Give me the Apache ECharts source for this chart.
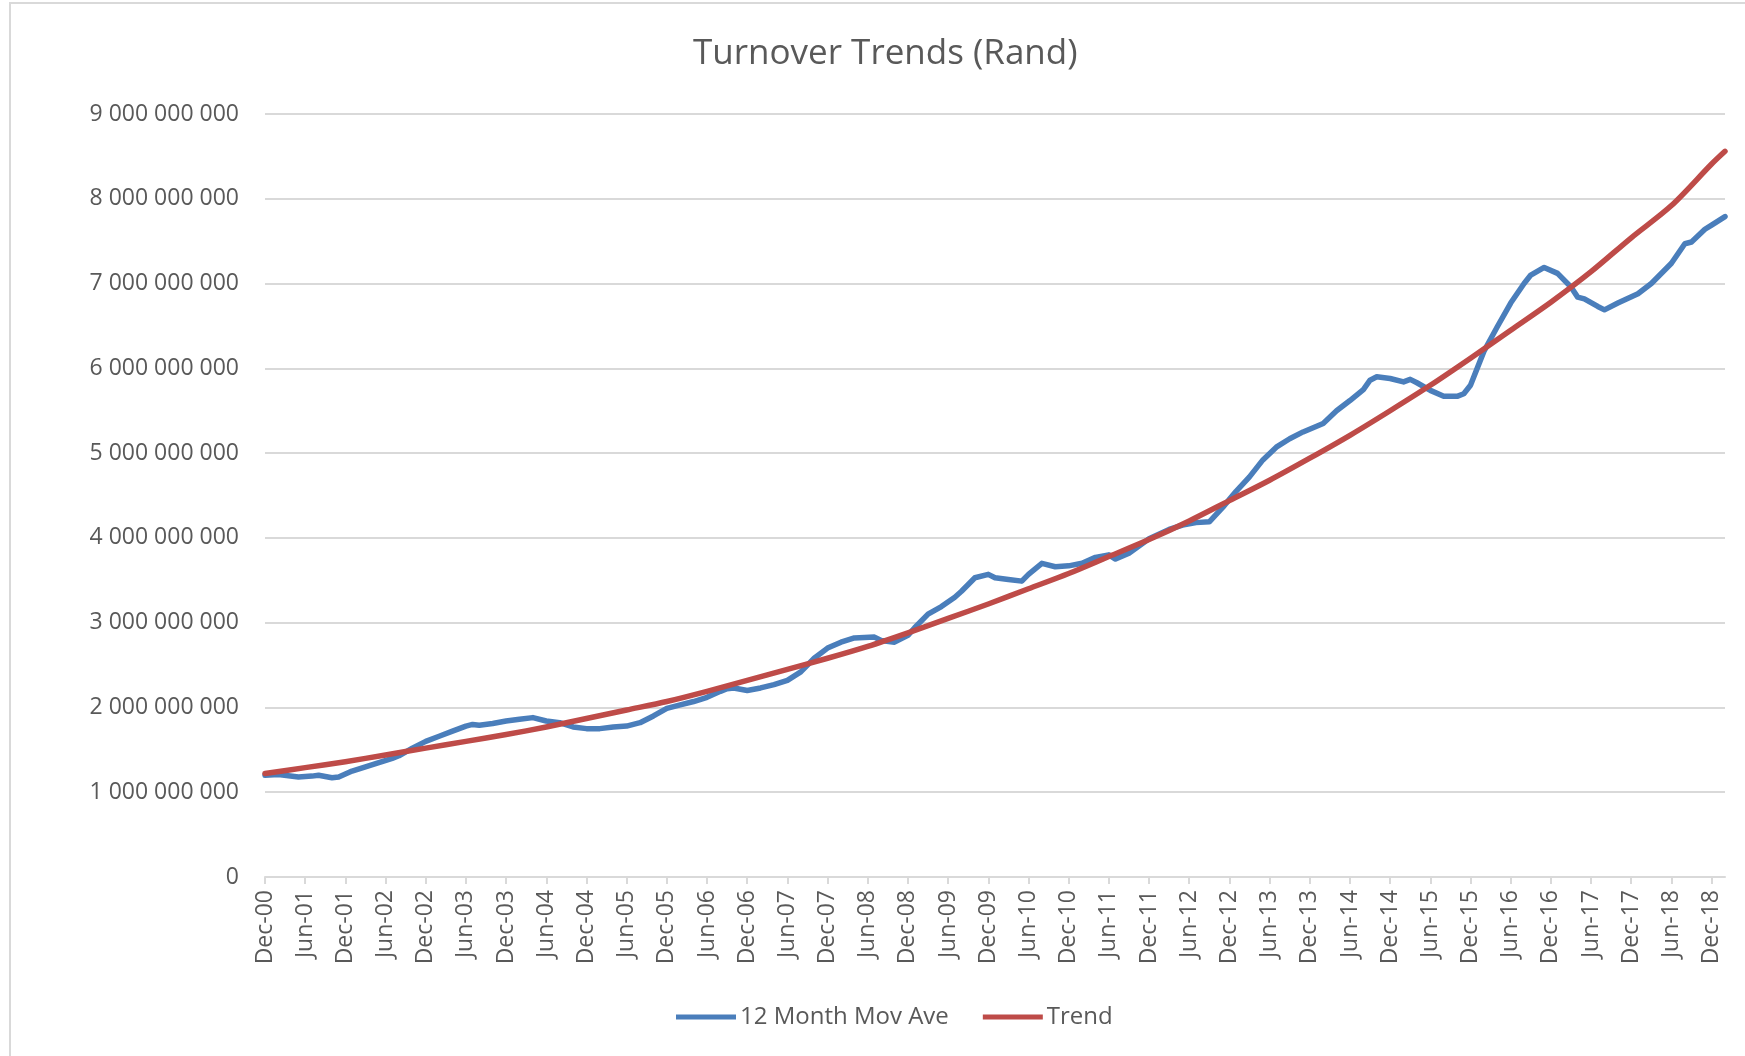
<!DOCTYPE html>
<html>
<head>
<meta charset="utf-8">
<script src="https://cdn.jsdelivr.net/npm/echarts@6/dist/echarts.min.js"></script>
<style>
  html, body { margin: 0; padding: 0; background: #fff; }
  #chart { width: 1745px; height: 1056px; }
</style>
</head>
<body>
<div id="chart"></div>
<script>
// monthly categories, Dec-00 .. Feb-19
const monthNames = ['Jan', 'Feb', 'Mar', 'Apr', 'May', 'Jun', 'Jul', 'Aug', 'Sep', 'Oct', 'Nov', 'Dec'];
const firstYear = 2000, firstMonth = 11, monthCount = 219;

// 12 month moving average (month index from Dec-00, value in millions of Rand)
const movAveMonth = [0, 2, 5, 7, 8, 10, 11, 13, 15, 17, 19, 20, 22, 24, 26, 28, 30, 31, 32, 34, 36, 38, 40, 42, 44, 46, 48, 50, 52, 54, 56, 58, 60, 62, 64, 66, 68, 69, 70, 72, 74, 76, 78, 80, 82, 84, 86, 88, 91, 92, 94, 96, 97, 99, 101, 103, 104, 106, 108, 109, 111, 113, 114, 116, 118, 120, 122, 124, 126, 127, 129, 132, 135, 137, 139, 141, 143, 145, 147, 149, 151, 153, 155, 158, 160, 162, 164, 165, 166, 168, 170, 171, 172, 174, 176, 178, 179, 180, 182, 184, 186, 188, 189, 191, 193, 195, 196, 197, 199, 200, 202, 205, 207, 210, 212, 213, 215, 216, 218];
const movAveMillions = [1200, 1210, 1180, 1190, 1200, 1170, 1180, 1250, 1300, 1350, 1400, 1430, 1520, 1600, 1660, 1720, 1780, 1800, 1790, 1810, 1840, 1860, 1880, 1840, 1820, 1770, 1750, 1750, 1770, 1780, 1820, 1900, 1990, 2030, 2070, 2120, 2190, 2220, 2230, 2200, 2230, 2270, 2320, 2420, 2580, 2700, 2770, 2820, 2830, 2790, 2770, 2850, 2940, 3100, 3190, 3300, 3370, 3530, 3570, 3530, 3510, 3490, 3570, 3700, 3660, 3670, 3700, 3770, 3800, 3750, 3820, 3990, 4100, 4150, 4180, 4190, 4360, 4550, 4720, 4920, 5070, 5170, 5250, 5350, 5500, 5620, 5750, 5860, 5900, 5880, 5840, 5870, 5830, 5740, 5670, 5670, 5700, 5800, 6200, 6490, 6770, 7000, 7100, 7190, 7120, 6960, 6840, 6820, 6730, 6690, 6770, 6880, 7000, 7240, 7470, 7490, 7640, 7690, 7790];

// trend series
const trendMonth = [0, 6, 12, 18, 24, 30, 36, 42, 48, 54, 60, 66, 72, 78, 84, 90, 96, 102, 108, 114, 120, 126, 132, 138, 144, 150, 156, 162, 168, 174, 180, 186, 192, 198, 204, 210, 216, 218];
const trendMillions = [1220, 1290, 1360, 1440, 1520, 1600, 1680, 1770, 1870, 1970, 2070, 2190, 2320, 2450, 2580, 2720, 2880, 3050, 3220, 3400, 3580, 3780, 3980, 4200, 4440, 4680, 4940, 5210, 5500, 5800, 6120, 6450, 6780, 7140, 7540, 7920, 8410, 8560];

const months = [];
for (let i = 0; i < monthCount; i++) {
  const m = (firstMonth + i) % 12;
  const y = firstYear + Math.floor((firstMonth + i) / 12);
  months.push(monthNames[m] + '-' + String(y % 100).padStart(2, '0'));
}

const toPairs = (idx, vals) => idx.map((m, i) => [m, vals[i] * 1e6]);

const fmtSpace = v => String(v).replace(/\B(?=(\d{3})+(?!\d))/g, ' ');

const labelFont = '"Open Sans", "Noto Sans", sans-serif';

const chart = echarts.init(document.getElementById('chart'));
chart.setOption({
  animation: false,
  backgroundColor: '#fff',
  textStyle: { fontFamily: labelFont },
  title: {
    text: 'Turnover Trends (Rand)',
    left: 688,
    top: 32,
    textStyle: { fontSize: 35, fontWeight: 'normal', color: '#595959', fontFamily: labelFont }
  },
  graphic: [{
    type: 'rect',
    shape: { x: 10, y: 3, width: 1800, height: 1100 },
    style: { fill: 'none', stroke: '#d9d9d9', lineWidth: 2 },
    silent: true
  }],
  legend: {
    bottom: 22,
    left: 671,
    icon: 'rect',
    itemWidth: 60,
    itemHeight: 5,
    itemGap: 34,
    textStyle: { fontSize: 24, color: '#595959', fontFamily: labelFont, padding: [0, 0, 0, -1] },
    data: ['12 Month Mov Ave', 'Trend']
  },
  grid: { left: 265, right: 20, top: 114, bottom: 179 },
  xAxis: {
    type: 'category',
    data: months,
    boundaryGap: false,
    axisLine: { lineStyle: { color: '#d9d9d9', width: 2 } },
    axisTick: { interval: 5, length: 7, lineStyle: { color: '#d9d9d9', width: 2 } },
    axisLabel: { interval: 5, rotate: 90, margin: 13, fontSize: 23, color: '#595959', fontFamily: labelFont },
    splitLine: { show: false }
  },
  yAxis: {
    type: 'value',
    min: 0,
    max: 9e9,
    interval: 1e9,
    axisLine: { show: false },
    axisTick: { show: false },
    axisLabel: { margin: 26, fontSize: 23, color: '#595959', fontFamily: labelFont, formatter: fmtSpace },
    splitLine: { lineStyle: { color: '#d9d9d9', width: 2 } }
  },
  series: [
    {
      name: '12 Month Mov Ave',
      type: 'line',
      symbol: 'none',
      data: toPairs(movAveMonth, movAveMillions),
      lineStyle: { color: '#4a7ebb', width: 5.5, join: 'round', cap: 'round' },
      itemStyle: { color: '#4a7ebb' }
    },
    {
      name: 'Trend',
      type: 'line',
      symbol: 'none',
      smooth: 0.3,
      data: toPairs(trendMonth, trendMillions),
      lineStyle: { color: '#be4b48', width: 5.5, join: 'round', cap: 'round' },
      itemStyle: { color: '#be4b48' }
    }
  ]
});
</script>
</body>
</html>
